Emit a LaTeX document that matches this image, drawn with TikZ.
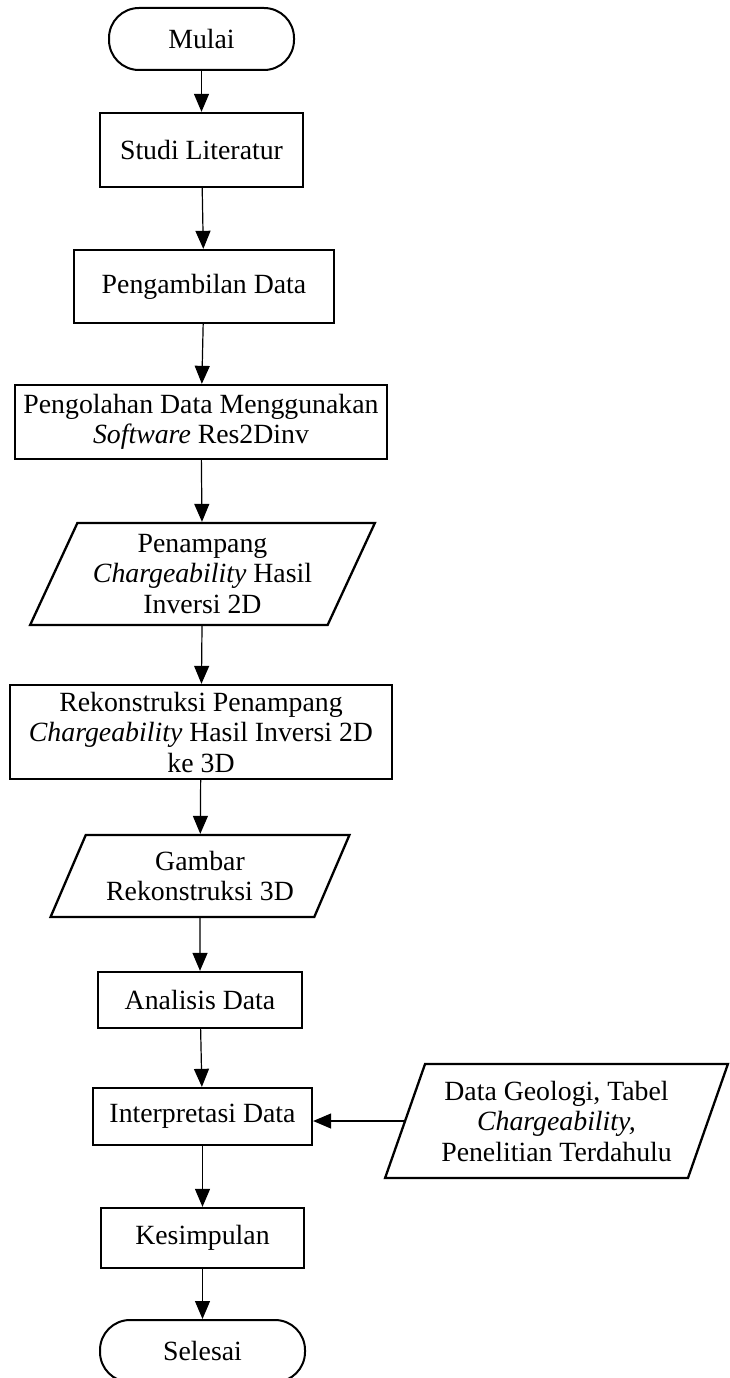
\documentclass[tikz,border=0pt]{standalone}
\usepackage{fontspec}
\setmainfont{Liberation Serif}
\usetikzlibrary{shapes.geometric,arrows.meta}
\tikzset{
  teks/.style={font=\fontsize{27.8}{30.5}\selectfont, align=center, inner sep=0pt},
  proses/.style={teks, draw, rectangle, line width=2.3pt},
  terminal/.style={teks, draw, rectangle, rounded corners=30pt, line width=2pt},
  iodata/.style={teks, draw, trapezium, trapezium stretches=true, line width=2.3pt},
  panah/.style={line width=1.2pt, -{Triangle[length=18pt,width=15pt]}}
}
\begin{document}
\begin{tikzpicture}[x=1pt,y=-1pt]
\useasboundingbox (0,0) rectangle (729,1378);
\node[terminal, minimum width=185pt, minimum height=62pt] (mulai) at (201.5,39) {Mulai};
\node[proses, minimum width=203pt, minimum height=74pt] (studi) at (201.5,150) {Studi Literatur};
\node[proses, minimum width=260pt, minimum height=73pt] (ambil) at (204,286.5) {Pengambilan Data};
\node[proses, minimum width=372pt, minimum height=74pt] (olah) at (201,422) {Pengolahan Data Menggunakan\\\textit{Software} Res2Dinv};
\node[iodata, trapezium left angle=62.5, trapezium right angle=117.5,
  minimum width=345pt, minimum height=102pt] (penampang) at (202.5,574) {Penampang\\\textit{Chargeability} Hasil\\Inversi 2D};
\node[proses, minimum width=382pt, minimum height=94pt] (rekon) at (201,732) {Rekonstruksi Penampang\\\textit{Chargeability} Hasil Inversi 2D\\ke 3D};
\node[iodata, trapezium left angle=60, trapezium right angle=120,
  minimum width=300pt, minimum height=82pt] (gambar) at (200,876) {Gambar\\Rekonstruksi 3D};
\node[proses, minimum width=204pt, minimum height=56pt] (analisis) at (200,1000) {Analisis Data};
\node[proses, minimum width=219pt, minimum height=57pt] (interp) at (202.5,1116.5) {Interpretasi Data};
\node[iodata, trapezium left angle=66.5, trapezium right angle=113.5,
  minimum width=343pt, minimum height=114pt] (geologi) at (556.5,1121) {Data Geologi, Tabel\\\textit{Chargeability,}\\Penelitian Terdahulu};
\node[proses, minimum width=203pt, minimum height=60pt] (simpul) at (202.5,1238) {Kesimpulan};
\node[terminal, minimum width=205pt, minimum height=62pt] (selesai) at (202.5,1351) {Selesai};
% alur utama
\draw[panah] (mulai) -- (studi);
\draw[panah] (studi) -- (ambil);
\draw[panah] (ambil) -- (olah);
\draw[panah] (olah) -- (penampang);
\draw[panah] (penampang) -- (rekon);
\draw[panah] (rekon) -- (gambar);
\draw[panah] (gambar) -- (analisis);
\draw[panah] (analisis) -- (interp);
\draw[panah] (geologi.west) -- (geologi.west -| interp.east);
\draw[panah] (interp) -- (simpul);
\draw[panah] (simpul) -- (selesai);
\end{tikzpicture}
\end{document}
